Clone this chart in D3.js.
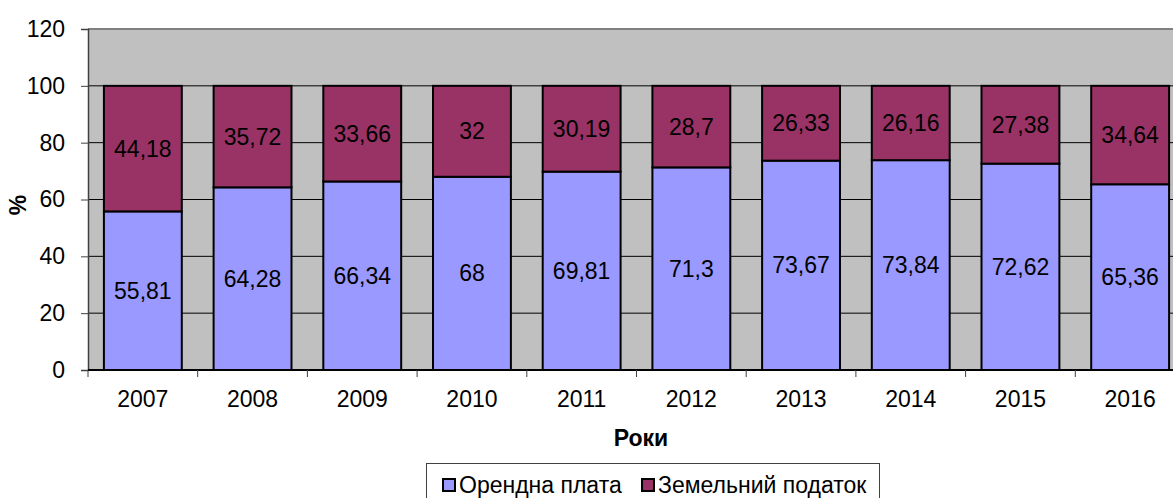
<!DOCTYPE html>
<html>
<head>
<meta charset="utf-8">
<script src="https://cdn.jsdelivr.net/npm/d3@7"></script>
<style>
html,body{margin:0;padding:0;background:#fff;overflow:hidden;}
text{font-family:"Liberation Sans",Arial,sans-serif;}
</style>
</head>
<body>
<div id="chart"></div>
<script>
var years=["2007","2008","2009","2010","2011","2012","2013","2014","2015","2016"];
var rent=[55.81,64.28,66.34,68,69.81,71.3,73.67,73.84,72.62,65.36];
var landTax=[44.18,35.72,33.66,32,30.19,28.7,26.33,26.16,27.38,34.64];
var yTicks=[0,20,40,60,80,100,120];
var seriesNames=["Орендна плата","Земельний податок"];

var W=1173,H=498;
var pLeft=88,pTop=29,pBottom=370,step=109.7;
var pRight=pLeft+step*years.length;
var colors=['#9999ff','#993366'];
var fs=23;

var svg=d3.select("#chart").append("svg").attr("width",W).attr("height",H);

var x=d3.scaleBand().domain(years).range([pLeft,pRight])
	.paddingInner(0.29).paddingOuter(0.145);
var y=d3.scaleLinear().domain([0,120]).range([pBottom,pTop]);

// plot background
svg.append("rect").attr("x",pLeft).attr("y",pTop)
	.attr("width",pRight-pLeft).attr("height",pBottom-pTop).attr("fill","#c0c0c0");
svg.append("line").attr("x1",pLeft).attr("x2",pRight).attr("y1",pTop).attr("y2",pTop)
	.attr("stroke","#808080").attr("stroke-width",2);

// gridlines
svg.selectAll("line.grid").data(yTicks.filter(function(d){return d>0&&d<120;}))
	.enter().append("line").attr("class","grid")
	.attr("x1",pLeft).attr("x2",pRight)
	.attr("y1",function(d){return y(d);}).attr("y2",function(d){return y(d);})
	.attr("stroke","#000").attr("stroke-width",1);

// stacked bars
var stackData=years.map(function(yr,i){return {year:yr,rent:rent[i],tax:landTax[i]};});
var keys=["rent","tax"];
var stack=d3.stack().keys(keys)(stackData);
var fmt=function(v){return String(v).replace('.',',');};

stack.forEach(function(layer,li){
	var g=svg.append("g");
	g.selectAll("rect").data(layer).enter().append("rect")
		.attr("x",function(d){return x(d.data.year);})
		.attr("width",x.bandwidth())
		.attr("y",function(d){return y(d[1]);})
		.attr("height",function(d){return y(d[0])-y(d[1]);})
		.attr("fill",colors[li]).attr("stroke","#000").attr("stroke-width",2);
	g.selectAll("text").data(layer).enter().append("text")
		.attr("x",function(d){return x(d.data.year)+x.bandwidth()/2;})
		.attr("y",function(d){return (y(d[0])+y(d[1]))/2;})
		.attr("text-anchor","middle").attr("dominant-baseline","central")
		.attr("font-size",fs).attr("fill","#000")
		.text(function(d){return fmt(d.data[keys[li]]);});
});

// y axis
var yAxis=d3.axisLeft(y).tickValues(yTicks).tickSize(7).tickPadding(16);
var ga=svg.append("g").attr("transform","translate("+pLeft+",0)").call(yAxis);
ga.select(".domain").attr("stroke","#404040").attr("stroke-width",1.5);
ga.selectAll(".tick line").attr("stroke","#404040");
ga.selectAll(".tick text").attr("font-size",fs).attr("fill","#000")
	.style("font-family","Liberation Sans, Arial, sans-serif");

// x axis
var gx=svg.append("g").attr("transform","translate(0,"+pBottom+")");
gx.append("line").attr("x1",pLeft).attr("x2",pRight).attr("stroke","#000").attr("stroke-width",2);
gx.selectAll("line.xt").data(d3.range(years.length+1)).enter().append("line")
	.attr("class","xt")
	.attr("x1",function(i){return pLeft+i*step;}).attr("x2",function(i){return pLeft+i*step;})
	.attr("y1",0).attr("y2",7).attr("stroke","#404040");
gx.selectAll("text").data(years).enter().append("text")
	.attr("x",function(d){return x(d)+x.bandwidth()/2;})
	.attr("y",37).attr("text-anchor","middle").attr("font-size",fs).attr("fill","#000")
	.text(function(d){return d;});

// axis titles
svg.append("text").attr("x",641).attr("y",446).attr("text-anchor","middle")
	.attr("font-size",fs).attr("font-weight","bold").text("Роки");
svg.append("text").attr("transform","translate(26,205) rotate(-90)")
	.attr("text-anchor","middle").attr("font-size",fs).attr("font-weight","bold").text("%");

// legend
var lg=svg.append("g");
lg.append("rect").attr("x",426.5).attr("y",463.5).attr("width",453).attr("height",60)
	.attr("fill","#fff").attr("stroke","#404040").attr("stroke-width",1);
var legX=[443,642];
seriesNames.forEach(function(n,i){
	lg.append("rect").attr("x",legX[i]).attr("y",479).attr("width",12).attr("height",12)
		.attr("fill",colors[i]).attr("stroke","#000").attr("stroke-width",2);
	lg.append("text").attr("x",legX[i]+16).attr("y",493).attr("font-size",fs).text(n);
});
</script>
</body>
</html>
